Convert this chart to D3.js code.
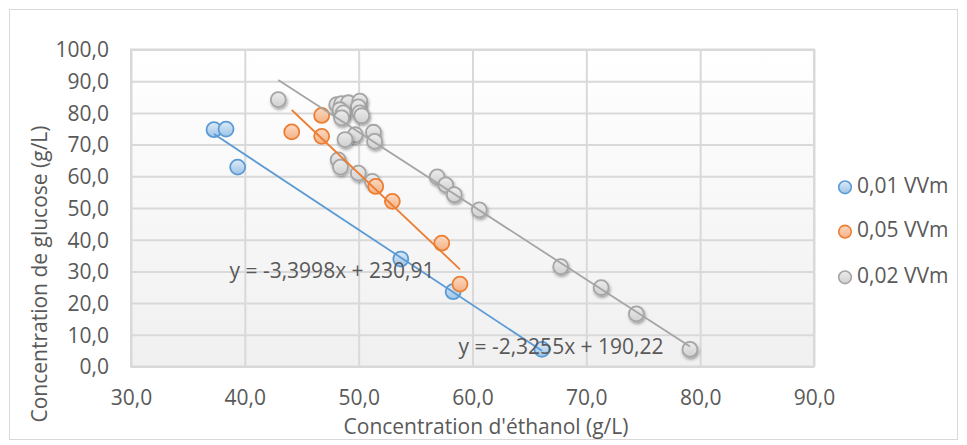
<!DOCTYPE html>
<html><head><meta charset="utf-8">
<script src="https://cdn.jsdelivr.net/npm/d3@7"></script>
<style>
html,body{margin:0;padding:0;background:#fff;}
svg text{font-family:"Open Sans",sans-serif;fill:#595959;}
</style></head>
<body><svg id="c" width="967" height="445"></svg>
<script>
// ---- data ----
const seriesNames = ["0,01 VVm", "0,05 VVm", "0,02 VVm"];
const blueX = [37.29, 38.35, 39.37, 53.7, 58.3, 66.1];
const blueY = [74.7, 74.9, 62.9, 33.9, 23.6, 5.4];
const orangeX = [44.12, 46.75, 46.75, 51.5, 52.96, 57.3, 58.9];
const orangeY = [74.0, 79.2, 72.6, 56.8, 52.1, 38.9, 26.0];
const grayX = [42.94, 48.07, 48.5, 49.1, 50.1, 49.97, 48.36, 48.65, 50.1, 50.27, 48.5,
               49.7, 48.8, 51.3, 51.4, 48.2, 48.4, 49.97, 51.2, 56.9, 57.65, 58.4, 60.6,
               67.75, 71.3, 74.4, 79.1];
const grayY = [84.2, 82.6, 82.9, 83.2, 83.7, 81.9, 81.0, 80.0, 80.0, 79.1, 78.4,
               73.1, 71.6, 73.9, 71.0, 65.2, 62.9, 61.0, 58.4, 59.8, 57.3, 54.2, 49.4,
               31.5, 24.9, 16.6, 5.4];
const trendSlopes = [-2.373, -3.3998, -2.3255];
const trendIntercepts = [161.8, 230.91, 190.22];
const equationLabels = ["", "y = -3,3998x + 230,91", "y = -2,3255x + 190,22"];
const xTicks = [30, 40, 50, 60, 70, 80, 90];
const yTicks = [0, 10, 20, 30, 40, 50, 60, 70, 80, 90, 100];
const xTitle = "Concentration d'éthanol (g/L)";
const yTitle = "Concentration de glucose (g/L)";

// ---- styles ----
const FS = "21px";
const stroke = ["#5b9bd5", "#ed7d31", "#a5a5a5"];
const fillTop = ["#deebf7", "#fbd9c4", "#ececec"];
const fillBot = ["#9dc3e6", "#f4b183", "#d0d0d0"];

const svg = d3.select("#c");
const defs = svg.append("defs");
const pg = defs.append("linearGradient").attr("id","pg").attr("x1",0).attr("y1",0).attr("x2",0).attr("y2",1);
pg.append("stop").attr("offset","0%").attr("stop-color","#ffffff");
pg.append("stop").attr("offset","100%").attr("stop-color","#f0f0f0");
stroke.forEach((c,i)=>{
  const g = defs.append("linearGradient").attr("id","mg"+i).attr("x1",0).attr("y1",0).attr("x2",0).attr("y2",1);
  g.append("stop").attr("offset","0%").attr("stop-color",fillTop[i]);
  g.append("stop").attr("offset","100%").attr("stop-color",fillBot[i]);
});
const f = defs.append("filter").attr("id","sh").attr("x","-50%").attr("y","-50%").attr("width","200%").attr("height","200%");
f.append("feDropShadow").attr("dx",1).attr("dy",2).attr("stdDeviation",1.5).attr("flood-color","#000").attr("flood-opacity",0.35);

// outer border
svg.append("rect").attr("x",9.5).attr("y",9.5).attr("width",948).attr("height",430)
  .attr("fill","#fff").attr("stroke","#d9d9d9").attr("stroke-width",1);

const L=131, R=814, T=49.5, B=366.5;
const x = d3.scaleLinear().domain([30,90]).range([L,R]);
const y = d3.scaleLinear().domain([0,100]).range([B,T]);
const fmt = v => d3.format(".1f")(v).replace(".", ",");

svg.append("rect").attr("x",L).attr("y",T).attr("width",R-L).attr("height",B-T).attr("fill","url(#pg)");

// gridlines via axes
svg.append("g").attr("transform",`translate(0,${B})`)
  .call(d3.axisBottom(x).tickValues(xTicks).tickSize(-(B-T)).tickFormat(""))
  .call(g=>{g.select(".domain").remove(); g.selectAll("line").attr("stroke","#d9d9d9").attr("stroke-width",2);});
svg.append("g").attr("transform",`translate(${L},0)`)
  .call(d3.axisLeft(y).tickValues(yTicks).tickSize(-(R-L)).tickFormat(""))
  .call(g=>{g.select(".domain").remove(); g.selectAll("line").attr("stroke","#d9d9d9").attr("stroke-width",2);});
svg.append("rect").attr("x",L).attr("y",T).attr("width",R-L).attr("height",B-T)
  .attr("fill","none").attr("stroke","#d9d9d9").attr("stroke-width",2);

// tick labels
svg.append("g").attr("transform",`translate(0,${B})`)
  .call(d3.axisBottom(x).tickValues(xTicks).tickSize(0).tickPadding(24).tickFormat(fmt))
  .call(g=>{g.select(".domain").remove(); g.selectAll("text").style("font-size",FS).attr("fill","#595959");});
svg.append("g").attr("transform",`translate(${L},0)`)
  .call(d3.axisLeft(y).tickValues(yTicks).tickSize(0).tickPadding(22).tickFormat(fmt))
  .call(g=>{g.select(".domain").remove(); g.selectAll("text").style("font-size",FS).attr("fill","#595959").attr("dy","0.35em");});

// axis titles
svg.append("text").attr("x",486).attr("y",428).attr("text-anchor","middle")
  .attr("dominant-baseline","middle").style("font-size",FS).text(xTitle);
svg.append("text").attr("transform",`translate(41,274) rotate(-90)`).attr("text-anchor","middle")
  .attr("dominant-baseline","middle").style("font-size",FS).text(yTitle);

const series = [
  {xs: blueX, ys: blueY},
  {xs: orangeX, ys: orangeY},
  {xs: grayX, ys: grayY}
];
const order = [2,0,1];
order.forEach(i=>{
  const s = series[i];
  const pts = s.xs.map((v,k)=>[v, s.ys[k]]);
  svg.append("g").selectAll("circle").data(pts).join("circle")
    .attr("cx",d=>x(d[0])).attr("cy",d=>y(d[1])).attr("r",7.5)
    .attr("fill",`url(#mg${i})`).attr("stroke",stroke[i]).attr("stroke-width",1.8)
    .attr("filter", i===2 ? "url(#sh)" : null);
});
// trendlines
series.forEach((s,i)=>{
  const x0 = d3.min(s.xs), x1 = d3.max(s.xs);
  svg.append("line")
    .attr("x1",x(x0)).attr("y1",y(trendSlopes[i]*x0+trendIntercepts[i]))
    .attr("x2",x(x1)).attr("y2",y(trendSlopes[i]*x1+trendIntercepts[i]))
    .attr("stroke",stroke[i]).attr("stroke-width",1.8);
});
// equation labels
svg.append("text").attr("x",332).attr("y",272).attr("text-anchor","middle").attr("dominant-baseline","middle")
  .style("font-size",FS).text(equationLabels[1]);
svg.append("text").attr("x",561).attr("y",348).attr("text-anchor","middle").attr("dominant-baseline","middle")
  .style("font-size",FS).text(equationLabels[2]);

// legend
const legY = [187.3, 231.7, 277.3];
seriesNames.forEach((n,i)=>{
  svg.append("circle").attr("cx",845).attr("cy",legY[i]).attr("r",6.3)
    .attr("fill",`url(#mg${i})`).attr("stroke",stroke[i]).attr("stroke-width",1.6);
  svg.append("text").attr("x",857).attr("y",legY[i]).attr("dominant-baseline","middle")
    .style("font-size",FS).text(n);
});
</script></body></html>
